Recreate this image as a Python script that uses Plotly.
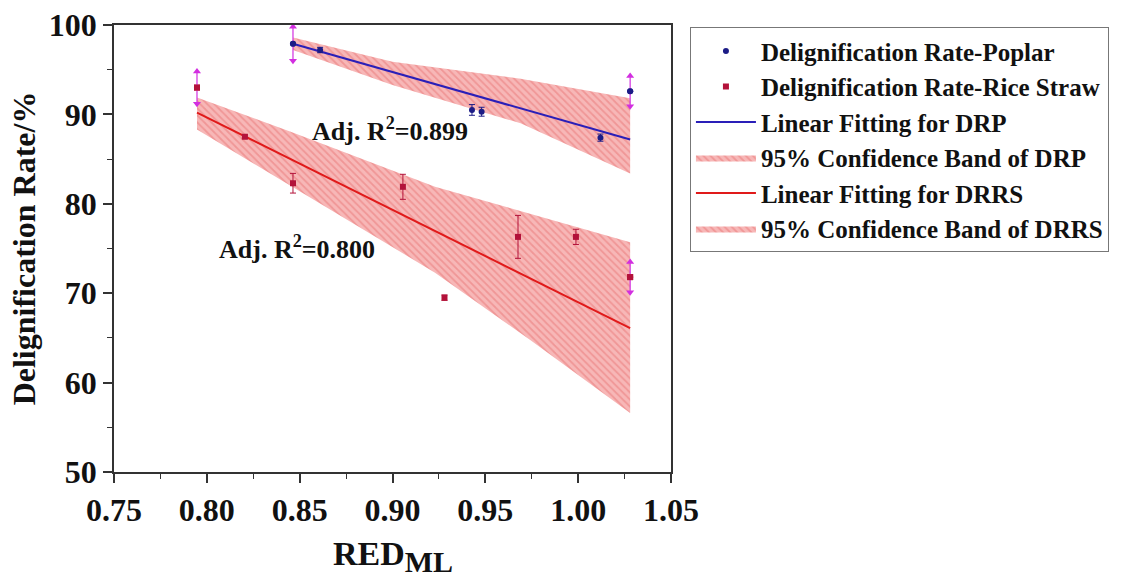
import plotly.graph_objects as go

# ---------------- data ----------------
red_ml_poplar = [0.8464, 0.861, 0.9428, 0.948, 1.012, 1.028]
rate_poplar = [97.9, 97.2, 90.5, 90.3, 87.4, 92.6]
err_poplar = [1.9, 0.3, 0.6, 0.5, 0.4, 1.7]
arrow_poplar = [True, False, False, False, False, True]

red_ml_rice = [0.7947, 0.8205, 0.8464, 0.9056, 0.928, 0.9676, 0.9988, 1.028]
rate_rice = [93.0, 87.5, 82.3, 81.9, 69.5, 76.3, 76.3, 71.8]
err_rice = [1.8, 0.2, 1.1, 1.4, 0.3, 2.4, 0.85, 1.7]
arrow_rice = [True, False, False, False, False, False, False, True]

fit_drp_x = [0.8464, 1.028]
fit_drp_y = [97.9, 87.2]
band_drp_x = [0.8464, 0.90, 0.969, 1.028]
band_drp_upper = [98.6, 95.9, 94.0, 91.8]
band_drp_lower = [97.2, 93.3, 89.0, 83.4]

fit_drrs_x = [0.7947, 1.028]
fit_drrs_y = [90.2, 66.1]
band_drrs_x = [0.7947, 0.8448, 0.9229, 0.974, 1.028]
band_drrs_upper = [91.9, 88.1, 81.9, 78.9, 75.7]
band_drrs_lower = [88.3, 82.0, 72.3, 64.8, 56.6]

adj_r2_texts = ["Adj. R<sup>2</sup>=0.899", "Adj. R<sup>2</sup>=0.800"]
adj_r2_pos = [(0.8986, 88.3), (0.8485, 75.1)]

x_title = 'RED<sub><span style="font-size:30px">ML</span></sub>'
y_title = "Delignification Rate/%"

names = [
    "Delignification Rate-Poplar",
    "Delignification Rate-Rice Straw",
    "Linear Fitting for DRP",
    "95% Confidence Band of DRP",
    "Linear Fitting for DRRS",
    "95% Confidence Band of DRRS",
]

# ---------------- style ----------------
FONT = "Liberation Serif, Times New Roman, serif"
POP_MARK = "#1c1c86"
POP_LINE = "#2a1fb8"
RICE_MARK = "#b3123a"
RICE_LINE = "#e01a1a"
MAGENTA = "#d22ee0"
BAND_BG = "rgba(246,170,170,0.85)"
BAND_FG = "rgba(228,95,95,0.75)"

fig = go.Figure()


def band(xs, up, lo, name, rank):
    fig.add_trace(go.Scatter(
        x=list(xs) + list(xs)[::-1],
        y=list(up) + list(lo)[::-1],
        mode="lines", fill="toself",
        line=dict(width=0, color=BAND_BG),
        fillcolor=BAND_BG,
        fillpattern=dict(shape="\\", bgcolor=BAND_BG, fgcolor=BAND_FG,
                         size=5, solidity=0.35),
        name=name, legendrank=rank, hoverinfo="skip",
    ))


band(band_drp_x, band_drp_upper, band_drp_lower, names[3], 4)
band(band_drrs_x, band_drrs_upper, band_drrs_lower, names[5], 6)

fig.add_trace(go.Scatter(x=fit_drp_x, y=fit_drp_y, mode="lines",
                         line=dict(color=POP_LINE, width=2),
                         name=names[2], legendrank=3))
fig.add_trace(go.Scatter(x=fit_drrs_x, y=fit_drrs_y, mode="lines",
                         line=dict(color=RICE_LINE, width=2),
                         name=names[4], legendrank=5))


def points(xs, ys, errs, arrows, color, symbol, name, rank):
    plain_err = [0 if a else e for e, a in zip(errs, arrows)]
    fig.add_trace(go.Scatter(
        x=xs, y=ys, mode="markers",
        marker=dict(color=color, size=6, symbol=symbol),
        error_y=dict(type="data", array=plain_err, visible=True,
                     color=color, thickness=1, width=3),
        name=name, legendrank=rank,
    ))
    # magenta error bars with arrow heads on selected points
    ax = [x for x, a in zip(xs, arrows) if a]
    ay = [y for y, a in zip(ys, arrows) if a]
    ae = [e for e, a in zip(errs, arrows) if a]
    fig.add_trace(go.Scatter(
        x=ax, y=ay, mode="markers",
        marker=dict(color=color, size=6, symbol=symbol),
        error_y=dict(type="data", array=ae, visible=True,
                     color=MAGENTA, thickness=1.2, width=0),
        showlegend=False, hoverinfo="skip",
    ))
    fig.add_trace(go.Scatter(
        x=ax + ax,
        y=[y + e for y, e in zip(ay, ae)] + [y - e for y, e in zip(ay, ae)],
        mode="markers",
        marker=dict(color=MAGENTA, size=7,
                    symbol=["triangle-up"] * len(ax) + ["triangle-down"] * len(ax)),
        showlegend=False, hoverinfo="skip",
    ))


points(red_ml_poplar, rate_poplar, err_poplar, arrow_poplar, POP_MARK,
       "circle", names[0], 1)
points(red_ml_rice, rate_rice, err_rice, arrow_rice, RICE_MARK,
       "square", names[1], 2)

for txt, (ax_, ay_) in zip(adj_r2_texts, adj_r2_pos):
    fig.add_annotation(x=ax_, y=ay_, text=txt, showarrow=False,
                       font=dict(family=FONT, size=26, color="#111", weight="bold"))

# x-axis title as a paper-anchored annotation (for exact placement)
fig.add_annotation(x=0.5, y=-0.136, xref="paper", yref="paper",
                   xanchor="center", yanchor="top", text=x_title, showarrow=False,
                   font=dict(family=FONT, size=34, color="#111", weight="bold"))

axis_common = dict(
    showline=True, linecolor="#333", linewidth=1.5, mirror=True,
    ticks="outside", ticklen=9, tickwidth=1.5, tickcolor="#333",
    showgrid=False, zeroline=False, automargin=False,
    tickfont=dict(family=FONT, size=32, color="#111", weight="bold"),
)

fig.update_xaxes(
    range=[0.75, 1.05], dtick=0.05, tick0=0.75, tickformat=".2f",
    minor=dict(dtick=0.025, ticklen=5, tickcolor="#333", tickwidth=1.2, ticks="outside"),
    **axis_common,
)
fig.update_yaxes(
    range=[50, 100], dtick=10, tick0=50,
    minor=dict(dtick=5, ticklen=5, tickcolor="#333", tickwidth=1.2, ticks="outside"),
    title=dict(text=y_title,
               font=dict(family=FONT, size=32, color="#111", weight="bold"),
               standoff=4),
    **axis_common,
)

fig.update_layout(
    width=1138, height=581,
    margin=dict(l=114, r=467, t=25, b=109),
    plot_bgcolor="white", paper_bgcolor="white",
    legend=dict(
        x=1.034, y=0.995, xanchor="left", yanchor="top",
        font=dict(family=FONT, size=25, color="#111", weight="bold"),
        bordercolor="#777", borderwidth=1, bgcolor="white",
        itemwidth=60, tracegroupgap=0,
    ),
    showlegend=True,
)

fig.write_html("out.html")
